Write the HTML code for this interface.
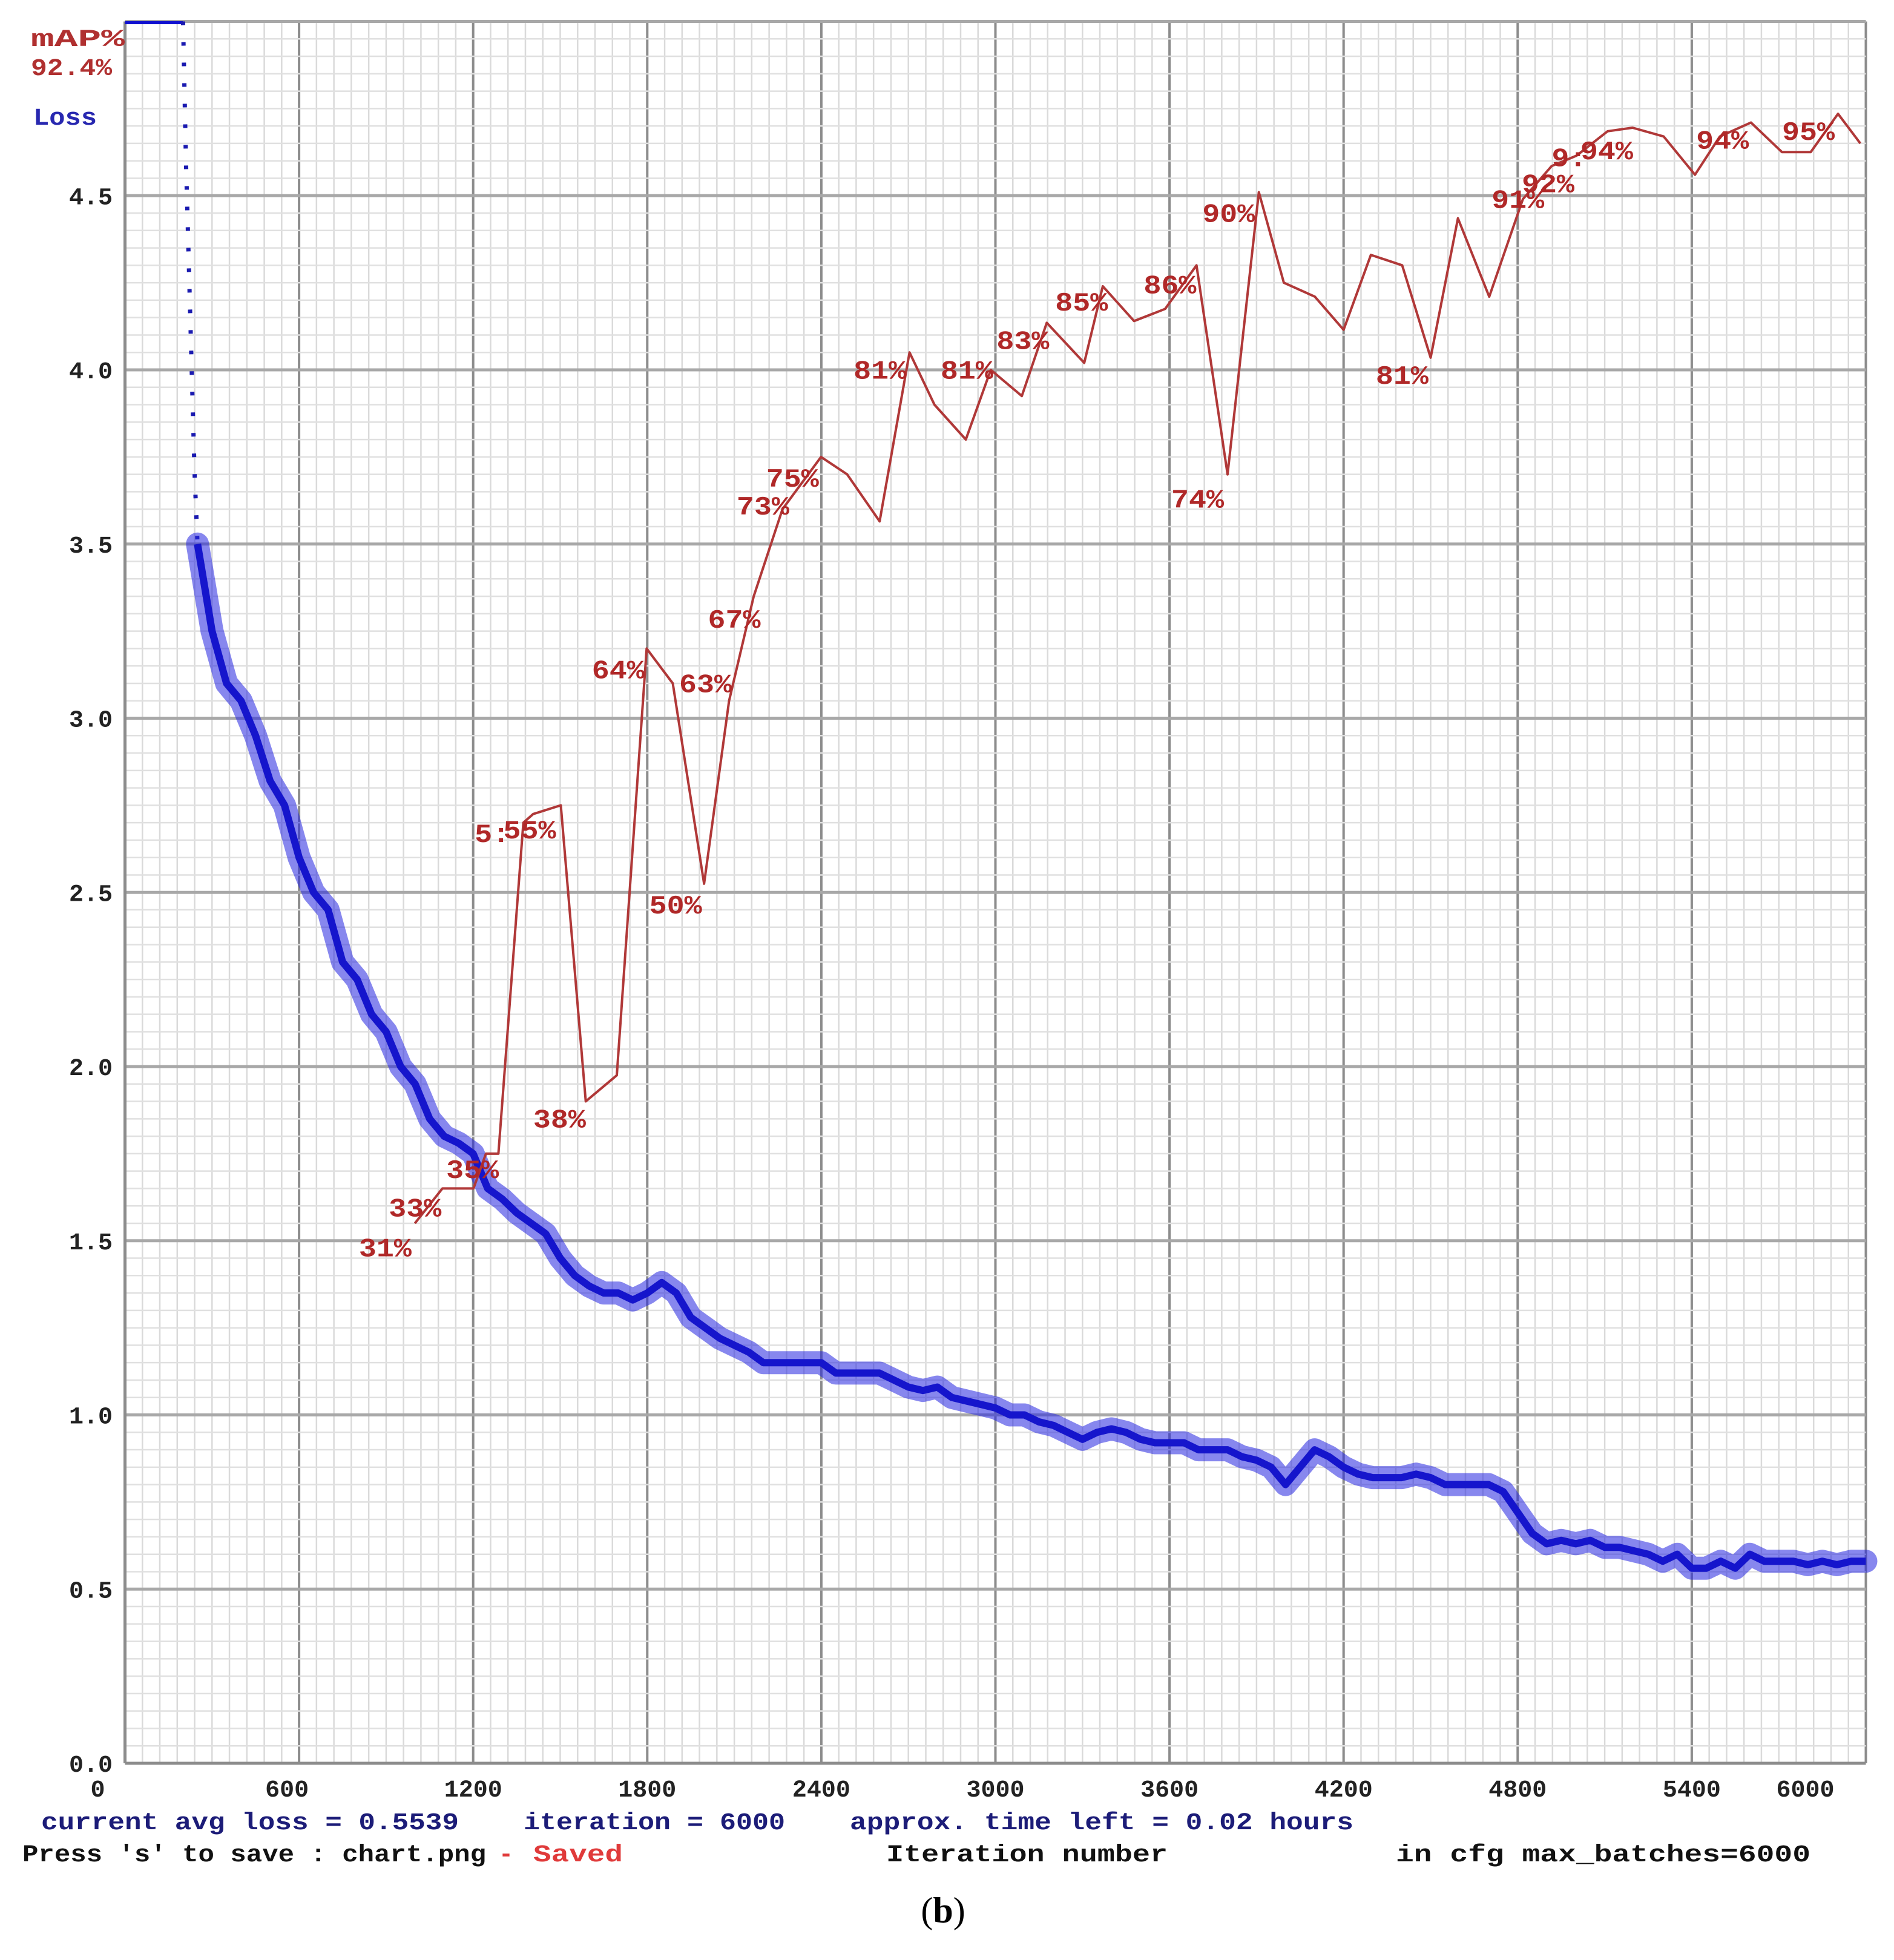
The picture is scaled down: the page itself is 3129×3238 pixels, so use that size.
<!DOCTYPE html>
<html><head><meta charset="utf-8"><style>
html,body{margin:0;padding:0;background:#fff;}
svg{display:block;}
text{font-family:"Liberation Mono",monospace;font-weight:bold;}
</style></head><body>
<svg id="chart" xmlns="http://www.w3.org/2000/svg" width="3129" height="3238" viewBox="0 0 3129 3238">
<rect x="0" y="0" width="3129" height="3238" fill="#fff"/>
<g id="grid"></g>
<g id="axes"></g>
<g id="loss"></g>
<g id="map"></g>
<g id="texts">
<text x="51" y="76" font-size="40" fill="#b03030" textLength="155" lengthAdjust="spacingAndGlyphs">mAP%</text>
<text x="51" y="124" font-size="40" fill="#b03030" textLength="134" lengthAdjust="spacingAndGlyphs">92.4%</text>
<text x="55" y="206" font-size="40" fill="#2828b0" textLength="105" lengthAdjust="spacingAndGlyphs">Loss</text>
<text x="68" y="3022" font-size="40" fill="#1c1c78" textLength="690" lengthAdjust="spacingAndGlyphs">current avg loss = 0.5539</text>
<text x="865" y="3022" font-size="40" fill="#1c1c78" textLength="432" lengthAdjust="spacingAndGlyphs">iteration = 6000</text>
<text x="1404" y="3022" font-size="40" fill="#1c1c78" textLength="832" lengthAdjust="spacingAndGlyphs">approx. time left = 0.02 hours</text>
<text x="37" y="3075" font-size="40" fill="#111" textLength="766" lengthAdjust="spacingAndGlyphs">Press 's' to save : chart.png</text>
<text x="824" y="3075" font-size="40" fill="#e03a3a">-</text>
<text x="881" y="3075" font-size="40" fill="#e03a3a" textLength="148" lengthAdjust="spacingAndGlyphs">Saved</text>
<text x="1464" y="3075" font-size="40" fill="#111" textLength="465" lengthAdjust="spacingAndGlyphs">Iteration number</text>
<text x="2306" y="3075" font-size="40" fill="#111" textLength="685" lengthAdjust="spacingAndGlyphs">in cfg max_batches=6000</text>
<text x="1558" y="3176" font-size="60" fill="#000" text-anchor="middle" style="font-family:'Liberation Serif',serif;font-weight:normal">(<tspan font-weight="bold">b</tspan>)</text>
</g>
</svg>
<script>
const lossIters=[200,210,220,230,240,250,300,350,400,450,500,550,600,650,700,750,800,850,900,950,1000,1050,1100,1150,1200,1250,1300,1350,1400,1450,1500,1550,1600,1650,1700,1750,1800,1850,1900,1950,2000,2050,2100,2150,2200,2250,2300,2350,2400,2450,2500,2550,2600,2650,2700,2750,2800,2850,2900,2950,3000,3050,3100,3150,3200,3250,3300,3350,3400,3450,3500,3550,3600,3650,3700,3750,3800,3850,3900,3950,4000,4050,4100,4150,4200,4250,4300,4350,4400,4450,4500,4550,4600,4650,4700,4750,4800,4850,4900,4950,5000,5050,5100,5150,5200,5250,5300,5350,5400,5450,5500,5550,5600,5650,5700,5750,5800,5850,5900,5950,6000];
const lossValues=[5.0,4.6,4.3,4.0,3.7,3.5,3.25,3.1,3.05,2.95,2.82,2.75,2.6,2.5,2.45,2.3,2.25,2.15,2.1,2.0,1.95,1.85,1.8,1.78,1.75,1.65,1.62,1.58,1.55,1.52,1.45,1.4,1.37,1.35,1.35,1.33,1.35,1.38,1.35,1.28,1.25,1.22,1.2,1.18,1.15,1.15,1.15,1.15,1.15,1.12,1.12,1.12,1.12,1.1,1.08,1.07,1.08,1.05,1.04,1.03,1.02,1.0,1.0,0.98,0.97,0.95,0.93,0.95,0.96,0.95,0.93,0.92,0.92,0.92,0.9,0.9,0.9,0.88,0.87,0.85,0.8,0.85,0.9,0.88,0.85,0.83,0.82,0.82,0.82,0.83,0.82,0.8,0.8,0.8,0.8,0.78,0.72,0.66,0.63,0.64,0.63,0.64,0.62,0.62,0.61,0.6,0.58,0.6,0.56,0.56,0.58,0.56,0.6,0.58,0.58,0.58,0.57,0.58,0.57,0.58,0.58];
const mapIters=[999,1094,1201,1244,1287,1373,1407,1502,1588,1695,1798,1888,1996,2082,2167,2266,2399,2489,2601,2704,2790,2898,2984,3091,3177,3306,3370,3478,3585,3693,3800,3908,3994,4101,4200,4294,4402,4500,4594,4702,4818,4917,5003,5110,5196,5303,5411,5497,5604,5711,5810,5904,5981];
const mapValues=[31,33,33,35,35,54,54.5,55,38,39.5,64,62,50.5,61,67,72,75,74,71.3,81,78,76,80,78.5,82.7,80.4,84.8,82.8,83.5,86,74,90.2,85,84.2,82.3,86.6,86,80.7,88.7,84.2,89.8,91.7,92.3,93.7,93.9,93.4,91.2,93.4,94.2,92.5,92.5,94.7,93];
const mapLabelText=["31%","33%","35%","5:","55%","38%","64%","50%","63%","67%","73%","75%","81%","81%","83%","85%","86%","74%","90%","81%","91%","92%","9:","94%","94%","95%"];
const mapLabelIters=[806,909,1107,1205,1304,1407,1609,1807,1910,2009,2108,2210,2511,2811,3004,3206,3511,3606,3713,4311,4710,4814,4917,5016,5415,5711];
const mapLabelPct=[29.1,31.4,33.6,52.9,53.1,36.5,62.3,48.8,61.5,65.2,71.7,73.3,79.5,79.5,81.2,83.4,84.4,72.1,88.5,79.2,89.3,90.2,91.7,92.1,92.7,93.2];
const yTicks=[0,0.5,1.0,1.5,2.0,2.5,3.0,3.5,4.0,4.5];
const yTickLabels=["0.0","0.5","1.0","1.5","2.0","2.5","3.0","3.5","4.0","4.5"];
const xTicks=[0,600,1200,1800,2400,3000,3600,4200,4800,5400,6000];
const xTickLabels=["0","600","1200","1800","2400","3000","3600","4200","4800","5400","6000"];

const NS="http://www.w3.org/2000/svg";
const X=i=>206.5+i*(2876/6000);
const Y=v=>2913-v*575.5;
const MY=p=>Y(p*5/100);
function mk(tag,attrs,parent){const e=document.createElementNS(NS,tag);for(const k in attrs)e.setAttribute(k,attrs[k]);parent.appendChild(e);return e;}

const grid=document.getElementById('grid');
for(let i=0;i<=6000;i+=60){
  const major=i%600===0;
  const l=mk('line',{x1:X(i),x2:X(i),y1:Y(5),y2:Y(0),stroke:major?'#8c8c8c':'#dadada','stroke-width':major?4:2.5},grid);
  
  
}
for(let k=0;k<=100;k++){
  const v=k*0.05;const major=k%10===0;
  const l=mk('line',{x1:X(0),x2:X(6000),y1:Y(v),y2:Y(v),stroke:major?'#a8a8a8':'#e0e0e0','stroke-width':major?5:2.5},grid);
  
  
}
const axes=document.getElementById('axes');
const ax1=mk('line',{x1:X(0),x2:X(0),y1:Y(5),y2:Y(0),stroke:'#8c8c8c','stroke-width':5},axes);


const ax2=mk('line',{x1:X(0),x2:X(6000),y1:Y(0),y2:Y(0),stroke:'#8c8c8c','stroke-width':5},axes);


yTicks.forEach((v,k)=>{
  const t=mk('text',{x:186,y:Y(v)+14,'font-size':40,'text-anchor':'end',fill:'#222',textLength:72,lengthAdjust:'spacingAndGlyphs'},axes);
  t.textContent=yTickLabels[k];
  
  
});
xTicks.forEach((v,k)=>{
  let x=X(v);
  if(k===0)x=X(0)-45;
  if(k===1)x=X(v)-20;
  if(k===xTicks.length-1)x=X(v)-100;
  const t=mk('text',{x:x,y:2968,'font-size':40,'text-anchor':'middle',fill:'#222'},axes);
  t.textContent=xTickLabels[k];
  
  
});

const lossG=document.getElementById('loss');
const topLine=mk('line',{x1:X(0),x2:X(lossIters[0]),y1:Y(5)+2,y2:Y(5)+2,stroke:'#1010d0','stroke-width':5},lossG);


let early=[],late=[];
lossIters.forEach((it,k)=>{const p=X(it).toFixed(1)+','+Y(lossValues[k]).toFixed(1);if(it<=250)early.push(p);if(it>=250)late.push(p);});
const e1=mk('polyline',{points:early.join(' '),fill:'none',stroke:'#1a1ab0','stroke-width':7,'stroke-dasharray':'6 28'},lossG);


const band=mk('polyline',{points:late.join(' '),fill:'none',stroke:'#2424e0','stroke-width':38,'stroke-linejoin':'round','stroke-linecap':'round','stroke-opacity':0.55},lossG);


const core=mk('polyline',{points:late.join(' '),fill:'none',stroke:'#1515cc','stroke-width':12,'stroke-linejoin':'round'},lossG);



const mapG=document.getElementById('map');
const mp=mapIters.map((it,k)=>X(it).toFixed(1)+','+MY(mapValues[k]).toFixed(1)).join(' ');
const ml=mk('polyline',{points:mp,fill:'none',stroke:'#b03838','stroke-width':4,'stroke-linejoin':'round'},mapG);


mapLabelText.forEach((s,k)=>{
  const t=mk('text',{x:X(mapLabelIters[k]),y:MY(mapLabelPct[k]),'font-size':44,fill:'#b02828',textLength:s.length*29,lengthAdjust:'spacingAndGlyphs'},mapG);
  t.textContent=s;
  
  
});
</script>
</body></html>
